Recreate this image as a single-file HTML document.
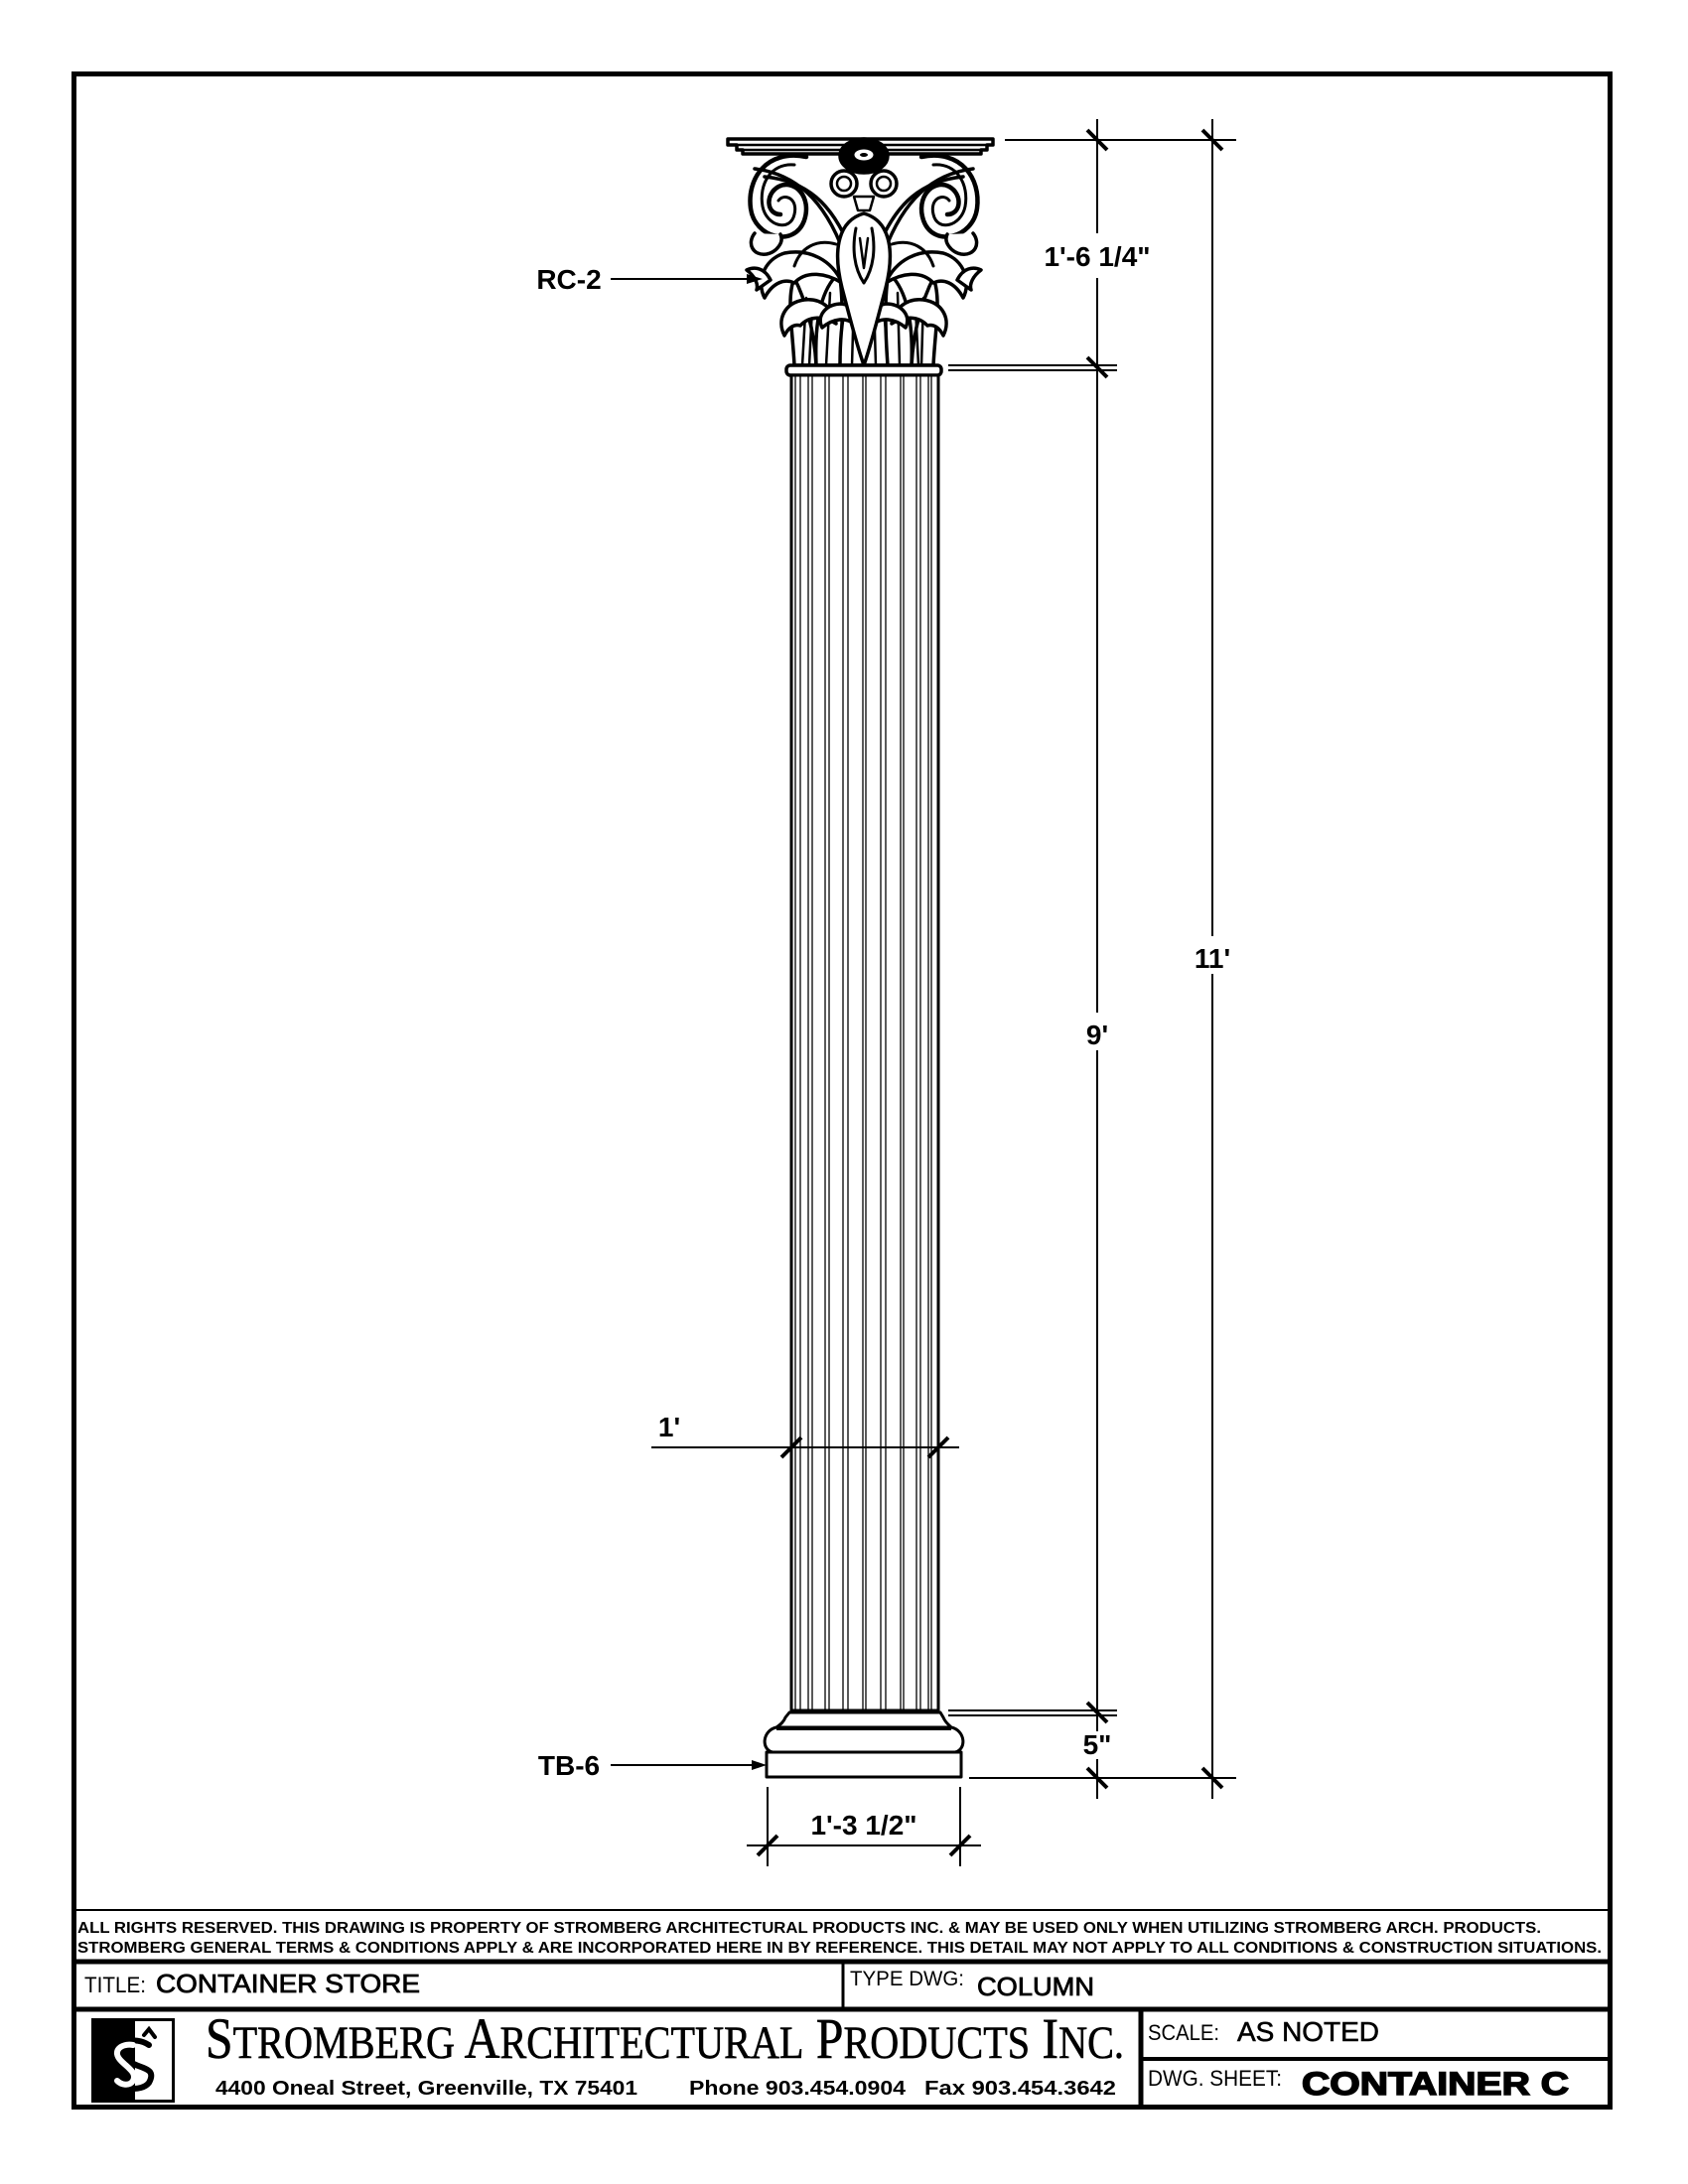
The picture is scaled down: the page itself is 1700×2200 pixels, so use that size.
<!DOCTYPE html>
<html><head><meta charset="utf-8"><style>
html,body{margin:0;padding:0;background:#fff;}
svg{display:block;}
text{font-family:"Liberation Sans",sans-serif;fill:#000;}
</style></head><body>
<svg width="1700" height="2200" viewBox="0 0 1700 2200" xmlns="http://www.w3.org/2000/svg">
<rect x="0" y="0" width="1700" height="2200" fill="#fff"/>
<!-- border -->
<rect x="74.5" y="74.5" width="1547" height="2048" fill="none" stroke="#000" stroke-width="5"/>

<!-- ===== CAPITAL ===== -->
<g stroke="#000" stroke-width="3.5" fill="#fff" stroke-linejoin="round" stroke-linecap="round">
  <path d="M800 368 C798 330,792 300,800 280 C810 300,820 330,822 368 Z"/>
  <path d="M822 368 C820 320,828 290,845 275 C850 300,848 340,846 368 Z"/>
  <path d="M846 368 C846 320,852 290,870 270 C888 290,894 320,894 368 Z"/>
  <path d="M894 368 C892 340,890 300,895 275 C912 290,920 320,918 368 Z"/>
  <path d="M918 368 C920 330,930 300,940 280 C948 300,942 330,940 368 Z"/>
  <path d="M808 368 L812 300 M832 368 L836 295 M858 368 L860 300 M870 368 L870 280 M882 368 L880 300 M906 368 L904 295 M928 368 L930 300 M815 368 L818 310 M925 368 L922 310" fill="none" stroke-width="2.5"/>
  <path d="M850 255 C830 200,800 175,760 170" fill="none"/>
  <path d="M856 250 C838 205,812 182,770 178" fill="none"/>
  <path d="M890 255 C910 200,940 175,980 170" fill="none"/>
  <path d="M884 250 C902 205,928 182,970 178" fill="none"/>
  <path d="M812 158 C772 150,752 180,756 210 C760 240,800 250,810 222 C818 198,800 180,784 188 C770 196,772 216,786 216" fill="none" stroke-width="4.5"/>
  <path d="M800 166 C776 164,764 186,768 208 C772 228,796 234,800 216 C804 200,790 194,784 202" fill="none" stroke-width="3"/>
  <path d="M928 158 C968 150,988 180,984 210 C980 240,940 250,930 222 C922 198,940 180,956 188 C970 196,968 216,954 216" fill="none" stroke-width="4.5"/>
  <path d="M940 166 C964 164,976 186,972 208 C968 228,944 234,940 216 C936 200,950 194,956 202" fill="none" stroke-width="3"/>
  <path d="M760 235 C752 245,758 258,772 256 C782 254,790 244,786 236"/>
  <path d="M980 235 C988 245,982 258,968 256 C958 254,950 244,954 236"/>
  <path d="M770 300 C762 285,768 262,790 255 C815 250,838 262,848 285 C832 275,812 272,800 285 C790 280,778 285,770 300 Z"/>
  <path d="M970 300 C978 285,972 262,950 255 C925 250,902 262,892 285 C908 275,928 272,940 285 C950 280,962 285,970 300 Z"/>
  <path d="M776 282 C770 270,760 268,752 272 C760 278,764 286,762 292 Z"/>
  <path d="M964 282 C970 270,980 268,988 272 C980 278,976 286,978 292 Z"/>
  <path d="M790 338 C782 322,790 305,810 302 C828 300,840 312,842 326 C830 318,815 318,806 328 C800 326,794 330,790 338 Z"/>
  <path d="M950 338 C958 322,950 305,930 302 C912 300,900 312,898 326 C910 318,925 318,934 328 C940 326,946 330,950 338 Z"/>
  <path d="M828 330 C822 318,832 306,848 306 C860 308,864 318,860 326 C852 320,840 320,828 330 Z"/>
  <path d="M912 330 C918 318,908 306,892 306 C880 308,876 318,880 326 C888 320,900 320,912 330 Z"/>
  <path d="M800 268 C806 250,822 240,842 246" fill="none" stroke-width="3"/>
  <path d="M940 268 C934 250,918 240,898 246" fill="none" stroke-width="3"/>
  <path d="M870 215 C845 222,838 250,848 290 C856 320,862 345,870 368 C878 345,884 320,892 290 C902 250,895 222,870 215 Z"/>
  <path d="M862 230 C858 250,860 270,870 285 C880 270,882 250,878 230" fill="none" stroke-width="3"/>
  <path d="M866 240 L870 270 L874 240" fill="none" stroke-width="2.5"/>
  <circle cx="850" cy="185" r="13"/>
  <circle cx="850" cy="185" r="7" fill="none" stroke-width="2.5"/>
  <circle cx="890" cy="185" r="13"/>
  <circle cx="890" cy="185" r="7" fill="none" stroke-width="2.5"/>
  <path d="M860 198 L864 212 L876 212 L880 198 Z" stroke-width="2.5"/>
  <path d="M733 140 H1000 V146 H994 V151 H988 V155 H748 V151 H742 V146 H733 Z"/>
  <path d="M742 146 H994 M748 151 H988" fill="none" stroke-width="2.5"/>
  <ellipse cx="870" cy="157" rx="24" ry="17" fill="#000"/>
  <ellipse cx="870" cy="156" rx="9" ry="5" fill="#fff" stroke="#fff" stroke-width="1"/>
  <ellipse cx="870" cy="156" rx="4" ry="2" fill="#000" stroke="none"/>
  <rect x="792" y="368" width="156" height="10" rx="4"/>
</g>

<!-- ===== SHAFT ===== -->
<g stroke="#000" fill="none">
  <rect x="797" y="378" width="148" height="1345" stroke-width="3" fill="#fff"/>
  <g stroke-width="1.3">
    <path d="M801 378V1723 M806 378V1723 M814 378V1723 M818 378V1723 M831 378V1723 M835 378V1723 M849 378V1723 M854 378V1723 M869 378V1723 M872 378V1723 M887 378V1723 M892 378V1723 M907 378V1723 M910 378V1723 M923 378V1723 M927 378V1723 M935 378V1723 M938 378V1723"/>
  </g>
</g>

<!-- ===== BASE ===== -->
<g stroke="#000" stroke-width="3" fill="#fff" stroke-linejoin="round">
  <path d="M795 1725 H947 L950 1730 C952 1735,955 1737,958 1740 H782 C786 1737,789 1735,791 1730 Z"/>
  <path d="M782 1740 H958 C972 1743,974 1762,962 1765 H778 C766 1762,768 1743,782 1740 Z"/>
  <line x1="782" y1="1741" x2="958" y2="1741" stroke-width="4"/>
  <rect x="772" y="1765" width="196" height="25"/>
</g>

<!-- ===== DIMENSIONS ===== -->
<g stroke="#000" stroke-width="2" fill="none">
  <line x1="1012" y1="141" x2="1245" y2="141"/>
  <line x1="955" y1="368" x2="1125" y2="368"/>
  <line x1="955" y1="373" x2="1125" y2="373"/>
  <line x1="955" y1="1723" x2="1125" y2="1723"/>
  <line x1="955" y1="1728" x2="1125" y2="1728"/>
  <line x1="976" y1="1791" x2="1245" y2="1791"/>
  <line x1="1105" y1="120" x2="1105" y2="1812"/>
  <line x1="1221" y1="120" x2="1221" y2="1812"/>
  <line x1="656" y1="1458" x2="966" y2="1458"/>
  <line x1="773" y1="1800" x2="773" y2="1880"/>
  <line x1="967" y1="1800" x2="967" y2="1880"/>
  <line x1="752" y1="1859" x2="988" y2="1859"/>
  <line x1="615" y1="281" x2="755" y2="281"/>
  <line x1="615" y1="1778" x2="760" y2="1778"/>
</g>
<g fill="#000">
  <path d="M768 281 L752 276 L752 286 Z"/>
  <path d="M772 1778 L757 1773 L757 1783 Z"/>
</g>
<g stroke="#000" stroke-width="4" stroke-linecap="butt">
  <line x1="1095" y1="131" x2="1115" y2="151"/>
  <line x1="1211" y1="131" x2="1231" y2="151"/>
  <line x1="1095" y1="360" x2="1115" y2="380"/>
  <line x1="1095" y1="1715" x2="1115" y2="1735"/>
  <line x1="1095" y1="1781" x2="1115" y2="1801"/>
  <line x1="1211" y1="1781" x2="1231" y2="1801"/>
  <line x1="787" y1="1468" x2="807" y2="1448"/>
  <line x1="935" y1="1468" x2="955" y2="1448"/>
  <line x1="763" y1="1869" x2="783" y2="1849"/>
  <line x1="957" y1="1869" x2="977" y2="1849"/>
</g>
<g fill="#fff">
  <rect x="1095" y="235" width="20" height="45"/>
  <rect x="1095" y="1020" width="20" height="38"/>
  <rect x="1211" y="943" width="20" height="38"/>
  <rect x="1095" y="1744" width="20" height="28"/>
</g>
<g font-weight="bold" font-size="28" text-anchor="middle">
  <text x="1105" y="268">1'-6 1/4"</text>
  <text x="1105" y="1052">9'</text>
  <text x="1221" y="975">11'</text>
  <text x="1105" y="1767">5"</text>
  <text x="870" y="1848">1'-3 1/2"</text>
  <text x="674" y="1447">1'</text>
  <text x="573" y="291">RC-2</text>
  <text x="573" y="1788">TB-6</text>
</g>

<!-- ===== TITLE BLOCK ===== -->
<g stroke="#000" fill="none">
  <line x1="74" y1="1924" x2="1622" y2="1924" stroke-width="2"/>
  <line x1="74" y1="1976" x2="1622" y2="1976" stroke-width="5"/>
  <line x1="74" y1="2024" x2="1622" y2="2024" stroke-width="5"/>
  <line x1="849" y1="1976" x2="849" y2="2024" stroke-width="3"/>
  <line x1="1149" y1="2024" x2="1149" y2="2122" stroke-width="5"/>
  <line x1="1149" y1="2074" x2="1622" y2="2074" stroke-width="4"/>
</g>
<g font-weight="bold" font-size="16">
  <text x="78" y="1947" textLength="1474" lengthAdjust="spacingAndGlyphs">ALL RIGHTS RESERVED. THIS DRAWING IS PROPERTY OF STROMBERG ARCHITECTURAL PRODUCTS INC. &amp; MAY BE USED ONLY WHEN UTILIZING STROMBERG ARCH. PRODUCTS.</text>
  <text x="78" y="1967" textLength="1535" lengthAdjust="spacingAndGlyphs">STROMBERG GENERAL TERMS &amp; CONDITIONS APPLY &amp; ARE INCORPORATED HERE IN BY REFERENCE. THIS DETAIL MAY NOT APPLY TO ALL CONDITIONS &amp; CONSTRUCTION SITUATIONS.</text>
</g>
<text x="85" y="2007" font-size="22" textLength="62" lengthAdjust="spacingAndGlyphs">TITLE:</text>
<text x="157" y="2007" font-size="26" stroke="#000" stroke-width="0.8" textLength="266" lengthAdjust="spacingAndGlyphs">CONTAINER STORE</text>
<text x="856" y="2000" font-size="21" textLength="115" lengthAdjust="spacingAndGlyphs">TYPE DWG:</text>
<text x="984" y="2010" font-size="26" stroke="#000" stroke-width="0.8" textLength="118" lengthAdjust="spacingAndGlyphs">COLUMN</text>

<!-- logo -->
<rect x="93.5" y="2034.5" width="81" height="82" fill="#fff" stroke="#000" stroke-width="3"/>
<rect x="93" y="2034" width="43" height="83" fill="#000"/>
<g fill="none" stroke-width="6" stroke-linecap="round">
  <path d="M150 2060 C135 2050,115 2058,125 2072 C135 2085,160 2080,150 2098 C142 2108,120 2104,115 2096" stroke="#000"/>
  <path d="M134 2060 C122 2058,112 2066,122 2076 C130 2084,138 2088,134 2096 C130 2102,122 2100,118 2096" stroke="#fff"/>
  <path d="M145 2050 L150 2044 L156 2052" stroke="#000" stroke-width="4"/>
</g>

<text y="2073" x="207" font-size="58" stroke="#000" stroke-width="0.6" textLength="925" lengthAdjust="spacingAndGlyphs" style="font-family:'Liberation Serif',serif">S<tspan font-size="47">TROMBERG</tspan> A<tspan font-size="47">RCHITECTURAL</tspan> P<tspan font-size="47">RODUCTS</tspan> I<tspan font-size="47">NC.</tspan></text>
<text x="217" y="2110" font-size="20" font-weight="bold" textLength="425" lengthAdjust="spacingAndGlyphs">4400 Oneal Street, Greenville, TX  75401</text>
<text x="694" y="2110" font-size="20" font-weight="bold" textLength="218" lengthAdjust="spacingAndGlyphs">Phone 903.454.0904</text>
<text x="931" y="2110" font-size="20" font-weight="bold" textLength="193" lengthAdjust="spacingAndGlyphs">Fax 903.454.3642</text>

<text x="1156" y="2055" font-size="22" textLength="72" lengthAdjust="spacingAndGlyphs">SCALE:</text>
<text x="1246" y="2056" font-size="28" stroke="#000" stroke-width="0.6" textLength="143" lengthAdjust="spacingAndGlyphs">AS NOTED</text>
<text x="1156" y="2101" font-size="22" textLength="135" lengthAdjust="spacingAndGlyphs">DWG. SHEET:</text>
<text x="1311" y="2110" font-size="32" font-weight="bold" stroke="#000" stroke-width="1.5" textLength="269" lengthAdjust="spacingAndGlyphs">CONTAINER C</text>
</svg>
</body></html>
